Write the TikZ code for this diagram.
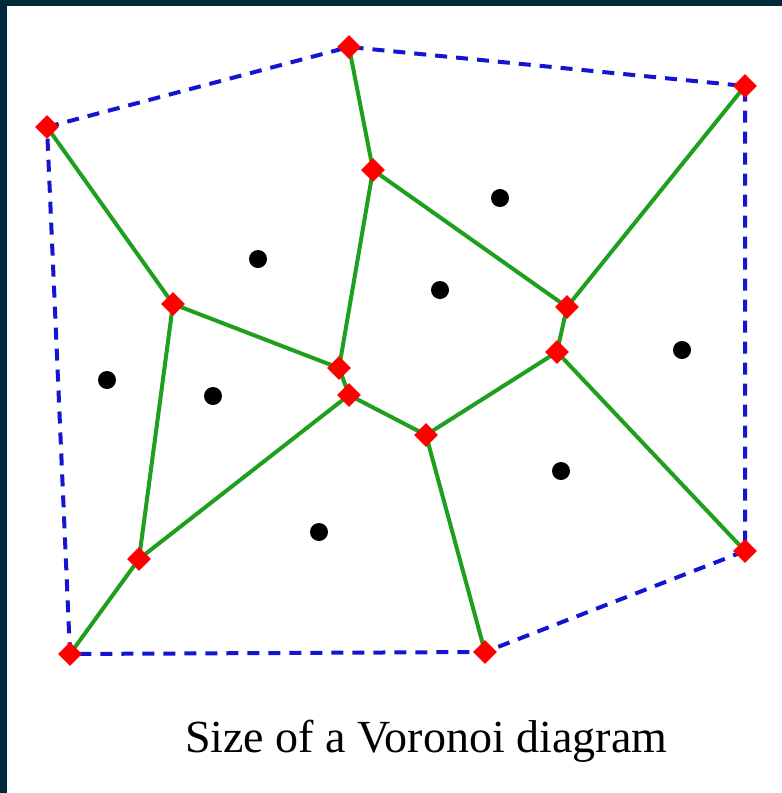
\documentclass[tikz,border=0pt]{standalone}
\usepackage{fontspec}
\setmainfont{Liberation Serif}
\usetikzlibrary{shapes.geometric}
\definecolor{frame}{RGB}{0,41,58}
\definecolor{vgreen}{RGB}{30,160,30}
\definecolor{vblue}{RGB}{20,20,210}
\tikzset{
  vert/.style={diamond,fill=red,inner sep=0pt,minimum size=24pt},
  site/.style={circle,fill=black,inner sep=0pt,minimum size=18pt},
  vedge/.style={draw=vgreen,line width=4pt},
  hull/.style={draw=vblue,line width=4pt,dash pattern=on 12pt off 9pt},
}
\begin{document}
\begin{tikzpicture}[x=1pt,y=-1pt]
\useasboundingbox (0,0) rectangle (782,793);
\fill[frame] (0,0) rectangle (782,793);
\fill[white] (7,6) rectangle (782,793);
% vertex coordinates
\coordinate (A) at (47,127);
\coordinate (B) at (349,47);
\coordinate (C) at (745,86);
\coordinate (D) at (373,170);
\coordinate (E) at (173,304);
\coordinate (F) at (567,307);
\coordinate (G) at (557,352);
\coordinate (H) at (339,368);
\coordinate (I) at (349,395);
\coordinate (J) at (426,435);
\coordinate (K) at (139,559);
\coordinate (L) at (745,551);
\coordinate (M) at (70,654);
\coordinate (N) at (485,652);
% hull
\draw[hull] (A) -- (B) -- (C) -- (L) -- (N) -- (M) -- cycle;
% voronoi edges
\draw[vedge] (A) -- (E);
\draw[vedge] (B) -- (D);
\draw[vedge] (C) -- (F);
\draw[vedge] (D) -- (H);
\draw[vedge] (D) -- (F);
\draw[vedge] (E) -- (H);
\draw[vedge] (E) -- (K);
\draw[vedge] (F) -- (G);
\draw[vedge] (G) -- (J);
\draw[vedge] (G) -- (L);
\draw[vedge] (H) -- (I);
\draw[vedge] (I) -- (J);
\draw[vedge] (I) -- (K);
\draw[vedge] (J) -- (N);
\draw[vedge] (K) -- (M);
% vertices
\foreach \v in {A,B,C,D,E,F,G,H,I,J,K,L,M,N}
  \node[vert] (v\v) at (\v) {};
% sites
\node[site] (s1) at (258,259) {};
\node[site] (s2) at (500,198) {};
\node[site] (s3) at (440,290) {};
\node[site] (s4) at (682,350) {};
\node[site] (s5) at (107,380) {};
\node[site] (s6) at (213,396) {};
\node[site] (s7) at (561,471) {};
\node[site] (s8) at (319,532) {};
% caption
\node[font=\fontsize{46}{52}\selectfont,anchor=base west,inner sep=0pt] (cap) at (185,752) {Size of a Voronoi diagram};
\end{tikzpicture}
\end{document}
